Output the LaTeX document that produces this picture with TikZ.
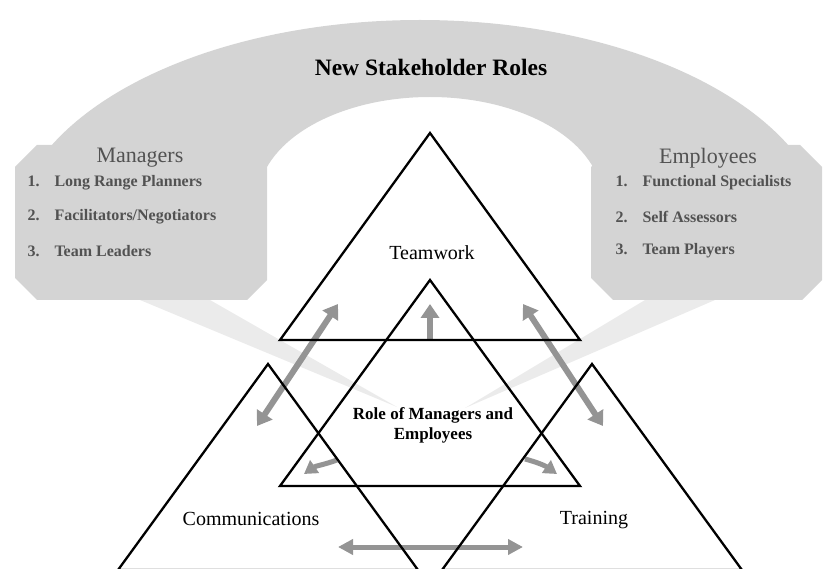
\documentclass[tikz,border=0pt]{standalone}
\usepackage{fontspec}
\setmainfont{Liberation Serif}
\usetikzlibrary{arrows.meta}
\definecolor{halftone}{gray}{0.83}
\definecolor{halftonelight}{gray}{0.92}
\definecolor{arrowgray}{gray}{0.58}
\definecolor{boxtext}{gray}{0.32}
\begin{document}
\begin{tikzpicture}[x=1pt,y=-1pt,
  tri/.style={draw=black,line width=2.3pt,line join=miter},
  bigarrow/.style={draw=arrowgray,line width=6pt,
    arrows={Triangle[width=18pt,length=14pt]-Triangle[width=18pt,length=14pt]}},
  onearrow/.style={draw=arrowgray,line width=6pt,
    arrows={-Triangle[width=18pt,length=14pt]}},
  smallarrow/.style={draw=arrowgray,line width=5pt,
    arrows={-Triangle[width=15pt,length=13pt]}},
  label/.style={font=\fontsize{20}{24}\selectfont},
  head/.style={font=\fontsize{22}{26}\selectfont,text=boxtext},
  item/.style={font=\bfseries\fontsize{16}{19}\selectfont,text=boxtext,anchor=west},
]
\useasboundingbox (0,0) rectangle (833,569);
\clip (0,0) rectangle (833,569);

% pointer tails from the two role boxes
\fill[halftonelight] (140,300) -- (210,300) -- (397,407) -- cycle;
\fill[halftonelight] (715,300) -- (645,300) -- (465,408) -- cycle;

% arch joining the two role boxes
\begin{scope}
  \clip (0,0) rectangle (833,167);
  \fill[halftone,even odd rule]
    (420,240) ellipse [x radius=408pt, y radius=220pt]
    (430,200) ellipse [x radius=172pt, y radius=103pt];
\end{scope}

% role boxes
\fill[halftone] (15,167) -- (37,145) -- (245,145) -- (267,167) -- (267,280)
  -- (247,300) -- (37,300) -- (15,278) -- cycle;
\fill[halftone] (591,167) -- (613,145) -- (800,145) -- (822,167) -- (822,280)
  -- (802,300) -- (613,300) -- (591,278) -- cycle;

% connector anchors
\coordinate (upA) at (338,304);  \coordinate (upB) at (257,426);
\coordinate (rtA) at (523,304);  \coordinate (rtB) at (603,426);
\coordinate (vA) at (430,340);   \coordinate (vB) at (430,304);
\coordinate (hA) at (338,547);   \coordinate (hB) at (523,547);
\coordinate (clA) at (337,460);  \coordinate (clB) at (304,474);
\coordinate (crA) at (525,459);  \coordinate (crB) at (557,474);

% grey arrows
\draw[bigarrow] (upA) -- (upB);
\draw[bigarrow] (rtA) -- (rtB);
\draw[onearrow] (vA) -- (vB);
\draw[draw=arrowgray,line width=5pt,
  arrows={Triangle[width=15pt,length=15pt]-Triangle[width=15pt,length=15pt]}] (hA) -- (hB);
\draw[smallarrow] (clA) to[out=200,in=35] (clB);
\draw[smallarrow] (crA) to[out=-15,in=145] (crB);

% the four triangles
\draw[tri] (430,133) -- (580,340) -- (280,340) -- cycle;
\draw[tri] (430,280) -- (580,486) -- (280,486) -- cycle;
\draw[tri] (268,364) -- (418,570) -- (118,570) -- cycle;
\draw[tri] (592,364) -- (742,570) -- (442,570) -- cycle;

% labels
\node[font=\bfseries\fontsize{23.5}{28}\selectfont] (title) at (431,67) {New Stakeholder Roles};
\node[label] (teamwork) at (432,253) {Teamwork};
\node[label] (comm) at (251,519) {Communications};
\node[label] (training) at (594,520) {Training};
\node[font=\bfseries\fontsize{17}{20}\selectfont,align=center] (role) at (433,425)
  {Role of Managers and\\Employees};

% managers box text
\node[head] (mgr) at (140,158) {Managers};
\node[item] (m1) at (24,183) {1.\hspace{15pt}Long Range Planners};
\node[item] (m2) at (24,217) {2.\hspace{15pt}Facilitators/Negotiators};
\node[item] (m3) at (24,251) {3.\hspace{15pt}Team Leaders};

% employees box text
\node[head] (emp) at (708,158) {Employees};
\node[item] (e1) at (612,183) {1.\hspace{15pt}Functional Specialists};
\node[item] (e2) at (612,217) {2.\hspace{15pt}Self Assessors};
\node[item] (e3) at (612,251) {3.\hspace{15pt}Team Players};
\end{tikzpicture}
\end{document}
